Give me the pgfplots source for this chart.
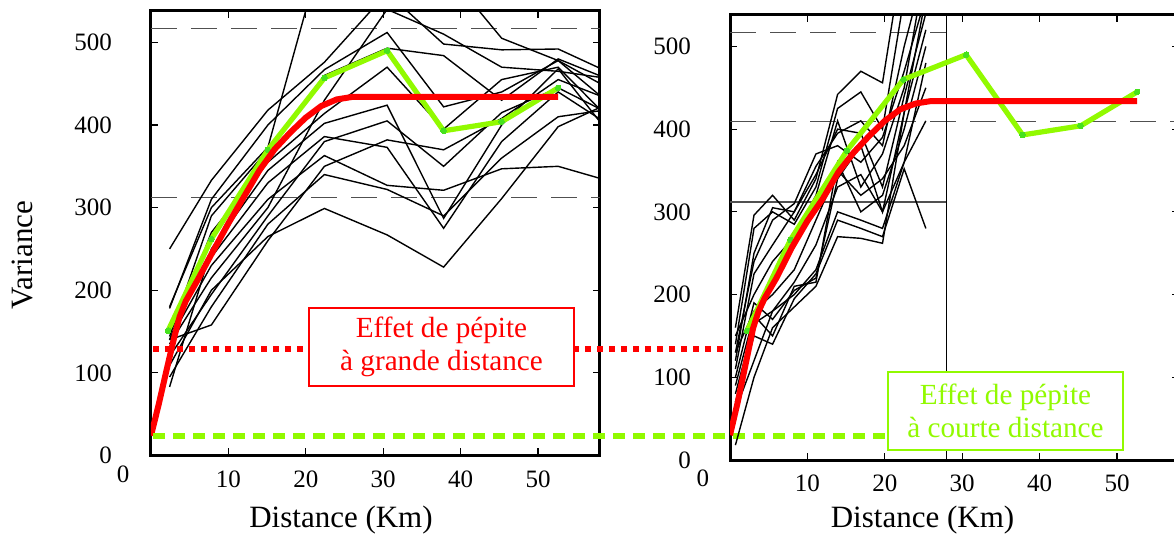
\documentclass[border=0pt]{standalone}
\usepackage{fontspec}
\setmainfont{Liberation Serif}
\usepackage{pgfplots}
\pgfplotsset{compat=1.18}
\definecolor{vred}{RGB}{255,0,0}
\definecolor{vgreen}{RGB}{145,250,0}
\definecolor{vdot}{RGB}{70,225,30}
\definecolor{dgray}{RGB}{80,80,80}
\pgfplotsset{
  panel/.style={
    scale only axis, width=224.5pt, height=222.25pt,
    xmin=0, xmax=58, ymin=0, ymax=538,
    xtick={10,20,30,40,50}, ytick={0,100,200,300,400,500},
    axis line style={line width=1.5pt},
    every tick/.style={black, line width=0.6pt},
    major tick length=3.5pt,
    tick align=inside,
    ticklabel style={font=\fontsize{12.5}{15}\selectfont},
    /pgf/number format/assume math mode=true,
    xticklabel={\textrm{\pgfmathprintnumber{\tick}}},
    yticklabel={\textrm{\pgfmathprintnumber{\tick}}},
    yticklabel style={xshift=-16pt},
    xticklabel style={yshift=-4pt},
    clip mode=individual,
  },
  blk/.style={black, line width=0.7pt, no markers},
  grn/.style={vgreen, line width=2.6pt, mark=*, mark size=1.4pt, mark options={fill=vdot, draw=vdot, line width=0pt}},
  rd/.style={vred, line width=3pt, no markers},
  gdash/.style={dgray, line width=0.6pt, dash pattern=on 13pt off 7pt, no markers},
}
\begin{document}
\begin{tikzpicture}
\useasboundingbox (0,0) rectangle (587pt,268pt);
% ---------------- left panel ----------------
\begin{axis}[panel, at={(75.5pt,40.25pt)}, anchor=south west]
\addplot[gdash] coordinates {(0,517) (58,517)};
\addplot[gdash] coordinates {(0,312) (58,312)};
\addplot[blk] coordinates {(2.4,250) (7.8,333) (15.1,418) (22.4,476) (30.5,560) (37.8,498) (45.3,491) (52.6,492) (60,460)};
\addplot[blk] coordinates {(2.4,180) (7.8,300) (15.1,373) (22.4,620) (30.5,620) (37.8,590) (45.3,505) (52.6,478) (60,420)};
\addplot[blk] coordinates {(2.4,178) (7.8,310) (15.1,400) (22.4,467) (30.5,512) (37.8,422) (45.3,440) (52.6,478) (60,440)};
\addplot[blk] coordinates {(2.4,144) (7.8,290) (15.1,370) (22.4,460) (30.5,493) (37.8,484) (45.3,430) (52.6,480) (60,452)};
\addplot[blk] coordinates {(2.4,140) (7.8,270) (15.1,355) (22.4,414) (30.5,470) (37.8,395) (45.3,455) (52.6,470) (60,400)};
\addplot[blk] coordinates {(2.4,83) (7.8,250) (15.1,345) (22.4,402) (30.5,424) (37.8,287) (45.3,400) (52.6,468) (60,380)};
\addplot[blk] coordinates {(2.4,150) (7.8,240) (15.1,330) (22.4,386) (30.5,373) (37.8,275) (45.3,380) (52.6,440) (60,395)};
\addplot[blk] coordinates {(2.4,140) (7.8,230) (15.1,310) (22.4,363) (30.5,327) (37.8,321) (45.3,347) (52.6,350) (60,330)};
\addplot[blk] coordinates {(2.4,109) (7.8,200) (15.1,265) (22.4,299) (30.5,267) (37.8,228) (45.3,311) (52.6,398) (60,430)};
\addplot[blk] coordinates {(2.4,140) (7.8,158) (15.1,260) (22.4,350) (30.5,382) (37.8,370) (45.3,408) (52.6,455) (60,428)};
\addplot[blk] coordinates {(2.4,135) (7.8,215) (15.1,300) (22.4,430) (30.5,540) (37.8,510) (45.3,470) (52.6,465) (60,455)};
\addplot[blk] coordinates {(2.4,120) (7.8,195) (15.1,290) (22.4,380) (30.5,405) (37.8,350) (45.3,415) (52.6,445) (60,410)};
\addplot[blk] coordinates {(2.4,95) (7.8,180) (15.1,280) (22.4,340) (30.5,322) (37.8,290) (45.3,360) (52.6,410) (60,420)};
\addplot[grn] coordinates {(2.2,151) (7.8,262) (15.1,370) (22.4,457) (30.5,490) (37.8,393) (45.3,404) (52.6,445)};
\addplot[rd] coordinates {(0,24) (1,62) (2,103) (3,143) (3.7,168) (4.5,187) (6,212) (8,247) (10,281) (12,313) (14,345) (16,371) (18,391) (20,409) (22,423) (24,431) (26,434) (52.6,434)};
\draw[vred, line width=3pt, dash pattern=on 3pt off 3pt] (axis cs:0.3,129) -- (axis cs:74.8,129);
\draw[vgreen, line width=3pt, dash pattern=on 6pt off 4pt] (axis cs:0.3,23.6) -- (axis cs:95.2,23.6);
\node[anchor=north, font=\fontsize{12.5}{15}\selectfont, inner sep=0pt] at (axis cs:-3.6,-12) {0};
\end{axis}
% ---------------- right panel ----------------
\begin{axis}[panel, at={(365pt,38pt)}, anchor=south west, height=222.5pt]
\addplot[gdash] coordinates {(0,517) (28,517)};
\addplot[dgray, line width=0.6pt, no markers] coordinates {(0,312) (28,312)};
\addplot[gdash] coordinates {(0,409) (58,409)};
\addplot[black, line width=0.6pt, no markers] coordinates {(28,0) (28,538)};
\addplot[blk] coordinates {(0.7,160) (3.1,296) (5.5,320) (8.3,290) (11.1,340) (13.9,442) (16.9,470) (19.7,456) (22.5,620)};
\addplot[blk] coordinates {(0.7,140) (3.1,280) (5.5,300) (8.3,285) (11.1,330) (13.9,425) (16.9,445) (19.7,400) (22.5,560) (25.3,650)};
\addplot[blk] coordinates {(0.7,120) (3.1,250) (5.5,305) (8.3,300) (11.1,355) (13.9,395) (16.9,410) (19.7,380) (22.5,500) (25.3,600)};
\addplot[blk] coordinates {(0.7,130) (3.1,240) (5.5,290) (8.3,310) (11.1,370) (13.9,380) (16.9,360) (19.7,390) (22.5,470) (25.3,560)};
\addplot[blk] coordinates {(0.7,110) (3.1,225) (5.5,260) (8.3,300) (11.1,345) (13.9,400) (16.9,395) (19.7,330) (22.5,440) (25.3,540)};
\addplot[blk] coordinates {(0.7,150) (3.1,200) (5.5,240) (8.3,270) (11.1,320) (13.9,410) (16.9,330) (19.7,370) (22.5,450) (25.3,600)};
\addplot[blk] coordinates {(0.7,100) (3.1,190) (5.5,170) (8.3,205) (11.1,220) (13.9,340) (16.9,380) (19.7,300) (22.5,420) (25.3,520)};
\addplot[blk] coordinates {(0.7,90) (3.1,175) (5.5,150) (8.3,210) (11.1,215) (13.9,360) (16.9,300) (19.7,320) (22.5,400) (25.3,500)};
\addplot[blk] coordinates {(0.7,80) (3.1,165) (5.5,180) (8.3,200) (11.1,230) (13.9,300) (16.9,290) (19.7,280) (22.5,360) (25.3,480)};
\addplot[blk] coordinates {(0.7,70) (3.1,150) (5.5,140) (8.3,195) (11.1,225) (13.9,290) (16.9,280) (19.7,270) (22.5,352) (25.3,280)};
\addplot[blk] coordinates {(0.7,18) (3.1,100) (5.5,160) (8.3,185) (11.1,210) (13.9,270) (16.9,268) (19.7,262) (22.5,420) (25.3,560)};
\addplot[blk] coordinates {(0.7,130) (3.1,180) (5.5,200) (8.3,230) (11.1,290) (13.9,350) (16.9,320) (19.7,340) (22.5,380) (25.3,450)};
\addplot[blk] coordinates {(0.7,60) (3.1,120) (5.5,180) (8.3,215) (11.1,260) (13.9,330) (16.9,345) (19.7,300) (22.5,360) (25.3,410)};
\addplot[grn] coordinates {(2.2,156) (7.8,266) (15.1,374) (22.4,460) (30.5,490) (37.8,393) (45.3,404) (52.6,445)};
\addplot[rd] coordinates {(0,30) (1,70) (2,115) (3,160) (3.7,180) (4.5,196) (6,220) (8,257) (10,289) (12,316) (14,348) (16,372) (18,392) (20,410) (22,424) (24,431) (26,434) (52.6,434)};
\node[anchor=north, font=\fontsize{12.5}{15}\selectfont, inner sep=0pt] at (axis cs:-3.5,-12) {0};
\end{axis}
% ---------------- labels and boxes ----------------
\node[font=\fontsize{15.5}{18}\selectfont, rotate=90] at (11pt,140.5pt) {Variance};
\node[font=\fontsize{15.5}{18}\selectfont] at (170.5pt,8pt) {Distance (Km)};
\node[font=\fontsize{15.5}{18}\selectfont] at (461.25pt,8pt) {Distance (Km)};
\node[draw=vred, line width=1.3pt, fill=white, text=vred, minimum width=132.5pt, minimum height=39pt, align=center, inner sep=0pt, font=\fontsize{14.6}{16.3}\selectfont] at (220.75pt,94.5pt) {Effet de pépite\\à grande distance};
\node[draw=vgreen, line width=1.3pt, fill=white, text=vgreen, minimum width=117.5pt, minimum height=39pt, align=center, inner sep=0pt, font=\fontsize{14.6}{16.3}\selectfont] at (502.75pt,62.5pt) {Effet de pépite\\à courte distance};
\end{tikzpicture}
\end{document}
